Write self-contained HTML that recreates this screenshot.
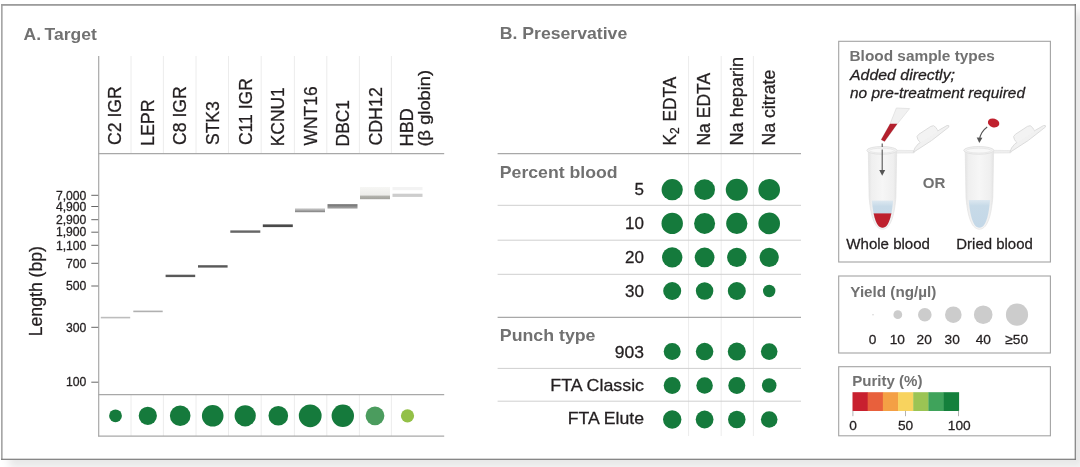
<!DOCTYPE html>
<html><head><meta charset="utf-8"><title>Figure</title>
<style>
html,body{margin:0;padding:0;background:#fff;}
body{width:1080px;height:467px;overflow:hidden;position:relative;font-family:"Liberation Sans",sans-serif;}
#frame{position:absolute;left:1.1px;top:4px;width:1074.7px;height:455.9px;background:#fff;
 box-shadow:8px 8px 8px rgba(0,0,0,0.095);}
svg{position:absolute;left:0;top:0;will-change:transform;}
text{font-family:"Liberation Sans",sans-serif;}
</style></head><body>
<div id="frame"></div>
<svg width="1080" height="467" viewBox="0 0 1080 467">
<rect x="1.1" y="4.0" width="1074.7" height="1.8" fill="#9c9c9c" />
<rect x="1.1" y="4.0" width="1.5" height="455.9" fill="#9e9e9e" />
<rect x="1.1" y="458.7" width="1074.7" height="1.2" fill="#7a7a7a" />
<rect x="1074.7" y="4.0" width="1.1" height="455.9" fill="#707070" />
<text x="23.6" y="39.8" font-size="17" font-weight="bold" fill="#717171" text-anchor="start" textLength="73.2" lengthAdjust="spacingAndGlyphs" >A.&#8201;Target</text>
<line x1="131.0" y1="56" x2="131.0" y2="153.5" stroke="#ececec" stroke-width="1"/>
<line x1="131.0" y1="395" x2="131.0" y2="436" stroke="#ececec" stroke-width="1"/>
<line x1="163.4" y1="56" x2="163.4" y2="153.5" stroke="#ececec" stroke-width="1"/>
<line x1="163.4" y1="395" x2="163.4" y2="436" stroke="#ececec" stroke-width="1"/>
<line x1="196.0" y1="56" x2="196.0" y2="153.5" stroke="#ececec" stroke-width="1"/>
<line x1="196.0" y1="395" x2="196.0" y2="436" stroke="#ececec" stroke-width="1"/>
<line x1="228.5" y1="56" x2="228.5" y2="153.5" stroke="#ececec" stroke-width="1"/>
<line x1="228.5" y1="395" x2="228.5" y2="436" stroke="#ececec" stroke-width="1"/>
<line x1="261.2" y1="56" x2="261.2" y2="153.5" stroke="#ececec" stroke-width="1"/>
<line x1="261.2" y1="395" x2="261.2" y2="436" stroke="#ececec" stroke-width="1"/>
<line x1="294.4" y1="56" x2="294.4" y2="153.5" stroke="#ececec" stroke-width="1"/>
<line x1="294.4" y1="395" x2="294.4" y2="436" stroke="#ececec" stroke-width="1"/>
<line x1="326.8" y1="56" x2="326.8" y2="153.5" stroke="#ececec" stroke-width="1"/>
<line x1="326.8" y1="395" x2="326.8" y2="436" stroke="#ececec" stroke-width="1"/>
<line x1="359.4" y1="56" x2="359.4" y2="153.5" stroke="#ececec" stroke-width="1"/>
<line x1="359.4" y1="395" x2="359.4" y2="436" stroke="#ececec" stroke-width="1"/>
<line x1="391.4" y1="56" x2="391.4" y2="153.5" stroke="#ececec" stroke-width="1"/>
<line x1="391.4" y1="395" x2="391.4" y2="436" stroke="#ececec" stroke-width="1"/>
<line x1="98.7" y1="56" x2="98.7" y2="436.5" stroke="#a8a8a8" stroke-width="1.2"/>
<line x1="98.2" y1="153.6" x2="444.2" y2="153.6" stroke="#a8a8a8" stroke-width="1.2"/>
<line x1="98.2" y1="394.6" x2="444.2" y2="394.6" stroke="#a8a8a8" stroke-width="1.2"/>
<line x1="98.2" y1="436.2" x2="444.2" y2="436.2" stroke="#a8a8a8" stroke-width="1.2"/>
<text transform="translate(121.4 145.0) rotate(-90)" x="0" y="0" font-size="18" font-weight="normal" fill="#231f20" textLength="58.7" lengthAdjust="spacingAndGlyphs" stroke="#231f20" stroke-width="0.28">C2 IGR</text>
<text transform="translate(153.9 146.0) rotate(-90)" x="0" y="0" font-size="18" font-weight="normal" fill="#231f20" textLength="46.7" lengthAdjust="spacingAndGlyphs" stroke="#231f20" stroke-width="0.28">LEPR</text>
<text transform="translate(186.4 145.0) rotate(-90)" x="0" y="0" font-size="18" font-weight="normal" fill="#231f20" textLength="58.7" lengthAdjust="spacingAndGlyphs" stroke="#231f20" stroke-width="0.28">C8 IGR</text>
<text transform="translate(218.9 145.1) rotate(-90)" x="0" y="0" font-size="18" font-weight="normal" fill="#231f20" textLength="44.0" lengthAdjust="spacingAndGlyphs" stroke="#231f20" stroke-width="0.28">STK3</text>
<text transform="translate(251.6 145.1) rotate(-90)" x="0" y="0" font-size="18" font-weight="normal" fill="#231f20" textLength="67.0" lengthAdjust="spacingAndGlyphs" stroke="#231f20" stroke-width="0.28">C11 IGR</text>
<text transform="translate(284.2 146.3) rotate(-90)" x="0" y="0" font-size="18" font-weight="normal" fill="#231f20" textLength="59.0" lengthAdjust="spacingAndGlyphs" stroke="#231f20" stroke-width="0.28">KCNU1</text>
<text transform="translate(316.5 145.4) rotate(-90)" x="0" y="0" font-size="18" font-weight="normal" fill="#231f20" textLength="59.0" lengthAdjust="spacingAndGlyphs" stroke="#231f20" stroke-width="0.28">WNT16</text>
<text transform="translate(349.0 146.4) rotate(-90)" x="0" y="0" font-size="18" font-weight="normal" fill="#231f20" textLength="46.3" lengthAdjust="spacingAndGlyphs" stroke="#231f20" stroke-width="0.28">DBC1</text>
<text transform="translate(381.6 145.6) rotate(-90)" x="0" y="0" font-size="18" font-weight="normal" fill="#231f20" textLength="58.4" lengthAdjust="spacingAndGlyphs" stroke="#231f20" stroke-width="0.28">CDH12</text>
<text transform="translate(412.6 146.4) rotate(-90)" x="0" y="0" font-size="18" font-weight="normal" fill="#231f20" textLength="38.2" lengthAdjust="spacingAndGlyphs" stroke="#231f20" stroke-width="0.28">HBD</text>
<text transform="translate(429.6 146.5) rotate(-90)" x="0" y="0" font-size="17" font-weight="normal" fill="#231f20" textLength="76.5" lengthAdjust="spacingAndGlyphs" stroke="#231f20" stroke-width="0.28">(&#946; globin)</text>
<line x1="91.3" y1="195.3" x2="98.2" y2="195.3" stroke="#555" stroke-width="0.9"/>
<text x="86.4" y="199.5" font-size="12.2" font-weight="normal" fill="#231f20" text-anchor="end" stroke="#231f20" stroke-width="0.28" >7,000</text>
<line x1="91.3" y1="206.5" x2="98.2" y2="206.5" stroke="#555" stroke-width="0.9"/>
<text x="86.4" y="210.7" font-size="12.2" font-weight="normal" fill="#231f20" text-anchor="end" stroke="#231f20" stroke-width="0.28" >4,900</text>
<line x1="91.3" y1="219.7" x2="98.2" y2="219.7" stroke="#555" stroke-width="0.9"/>
<text x="86.4" y="223.89999999999998" font-size="12.2" font-weight="normal" fill="#231f20" text-anchor="end" stroke="#231f20" stroke-width="0.28" >2,900</text>
<line x1="91.3" y1="232.2" x2="98.2" y2="232.2" stroke="#555" stroke-width="0.9"/>
<text x="86.4" y="236.39999999999998" font-size="12.2" font-weight="normal" fill="#231f20" text-anchor="end" stroke="#231f20" stroke-width="0.28" >1,900</text>
<line x1="91.3" y1="245.3" x2="98.2" y2="245.3" stroke="#555" stroke-width="0.9"/>
<text x="86.4" y="249.5" font-size="12.2" font-weight="normal" fill="#231f20" text-anchor="end" stroke="#231f20" stroke-width="0.28" >1,100</text>
<line x1="91.3" y1="263.3" x2="98.2" y2="263.3" stroke="#555" stroke-width="0.9"/>
<text x="86.4" y="267.5" font-size="12.2" font-weight="normal" fill="#231f20" text-anchor="end" stroke="#231f20" stroke-width="0.28" >700</text>
<line x1="91.3" y1="286.0" x2="98.2" y2="286.0" stroke="#555" stroke-width="0.9"/>
<text x="86.4" y="290.2" font-size="12.2" font-weight="normal" fill="#231f20" text-anchor="end" stroke="#231f20" stroke-width="0.28" >500</text>
<line x1="91.3" y1="327.3" x2="98.2" y2="327.3" stroke="#555" stroke-width="0.9"/>
<text x="86.4" y="331.5" font-size="12.2" font-weight="normal" fill="#231f20" text-anchor="end" stroke="#231f20" stroke-width="0.28" >300</text>
<line x1="91.3" y1="382.2" x2="98.2" y2="382.2" stroke="#555" stroke-width="0.9"/>
<text x="86.4" y="386.4" font-size="12.2" font-weight="normal" fill="#231f20" text-anchor="end" stroke="#231f20" stroke-width="0.28" >100</text>
<text transform="translate(42.0 336.3) rotate(-90)" x="0" y="0" font-size="18.5" font-weight="normal" fill="#231f20" textLength="90.3" lengthAdjust="spacingAndGlyphs" stroke="#231f20" stroke-width="0.28">Length (bp)</text>
<defs><linearGradient id="gW" x1="0" y1="0" x2="0" y2="1"><stop offset="0" stop-color="#d4d4d4"/><stop offset="1" stop-color="#7d7d7d"/></linearGradient><linearGradient id="gD" x1="0" y1="0" x2="0" y2="1"><stop offset="0" stop-color="#6b6b6b"/><stop offset="1" stop-color="#a9a9a9"/></linearGradient><linearGradient id="gC" x1="0" y1="0" x2="0" y2="1"><stop offset="0" stop-color="#f6f6f4"/><stop offset="0.68" stop-color="#ededea"/><stop offset="0.72" stop-color="#b4b4ae"/><stop offset="1" stop-color="#a2a29c"/></linearGradient></defs>
<rect x="100.8" y="316.8" width="29.4" height="1.6" fill="#bdbdbd" />
<rect x="133.3" y="310.6" width="29.4" height="1.6" fill="#b0b0b0" />
<rect x="165.6" y="274.7" width="29.6" height="2.4" fill="#595959" />
<rect x="198.0" y="265.2" width="29.6" height="2.4" fill="#595959" />
<rect x="230.3" y="230.4" width="30.0" height="2.4" fill="#666666" />
<rect x="262.8" y="224.4" width="30.0" height="2.7" fill="#4a4a4a" />
<rect x="295.0" y="208.3" width="30.0" height="3.9" fill="url(#gW)" />
<rect x="327.5" y="204.2" width="30.0" height="4.4" fill="url(#gD)" />
<rect x="360.0" y="187.0" width="30.0" height="12.2" fill="url(#gC)" />
<rect x="392.5" y="187.0" width="30.0" height="3.2" fill="#f3f3f3" />
<rect x="392.5" y="193.7" width="30.0" height="3.2" fill="#cdcdcd" />
<circle cx="115.5" cy="415.8" r="6.4" fill="#157a3c"/>
<circle cx="147.8" cy="415.8" r="9.1" fill="#157a3c"/>
<circle cx="180.2" cy="415.8" r="10.3" fill="#157a3c"/>
<circle cx="212.7" cy="415.8" r="10.8" fill="#157a3c"/>
<circle cx="245.2" cy="415.8" r="10.6" fill="#157a3c"/>
<circle cx="278.3" cy="415.8" r="9.8" fill="#157a3c"/>
<circle cx="310.2" cy="415.8" r="11.4" fill="#157a3c"/>
<circle cx="342.8" cy="415.8" r="11.2" fill="#157a3c"/>
<circle cx="375.0" cy="415.8" r="9.4" fill="#4b9c5e"/>
<circle cx="407.5" cy="415.8" r="6.6" fill="#93c047"/>
<text x="499.8" y="39.4" font-size="17" font-weight="bold" fill="#717171" text-anchor="start" textLength="127.4" lengthAdjust="spacingAndGlyphs" >B. Preservative</text>
<line x1="688.6" y1="56" x2="688.6" y2="436" stroke="#ececec" stroke-width="1"/>
<line x1="721.2" y1="56" x2="721.2" y2="436" stroke="#ececec" stroke-width="1"/>
<line x1="753.4" y1="56" x2="753.4" y2="436" stroke="#ececec" stroke-width="1"/>
<line x1="497.6" y1="153.6" x2="801" y2="153.6" stroke="#a8a8a8" stroke-width="1.2"/>
<line x1="497.6" y1="317.3" x2="801" y2="317.3" stroke="#a8a8a8" stroke-width="1.2"/>
<line x1="497.6" y1="205.3" x2="801" y2="205.3" stroke="#cfcfcf" stroke-width="1"/>
<line x1="497.6" y1="240.2" x2="801" y2="240.2" stroke="#cfcfcf" stroke-width="1"/>
<line x1="497.6" y1="274.3" x2="801" y2="274.3" stroke="#cfcfcf" stroke-width="1"/>
<line x1="497.6" y1="368.4" x2="801" y2="368.4" stroke="#cfcfcf" stroke-width="1"/>
<line x1="497.6" y1="401.2" x2="801" y2="401.2" stroke="#cfcfcf" stroke-width="1"/>
<text transform="translate(676.4 145.6) rotate(-90)" font-size="18" fill="#231f20" stroke="#231f20" stroke-width="0.28" textLength="68.8" lengthAdjust="spacingAndGlyphs">K<tspan font-size="12.5" dy="2.6">2</tspan><tspan dy="-2.6" dx="1.2"> EDTA</tspan></text>
<text transform="translate(710.0 145.6) rotate(-90)" x="0" y="0" font-size="18" font-weight="normal" fill="#231f20" textLength="72.8" lengthAdjust="spacingAndGlyphs" stroke="#231f20" stroke-width="0.28">Na EDTA</text>
<text transform="translate(742.6 145.6) rotate(-90)" x="0" y="0" font-size="18" font-weight="normal" fill="#231f20" textLength="88.8" lengthAdjust="spacingAndGlyphs" stroke="#231f20" stroke-width="0.28">Na heparin</text>
<text transform="translate(775.0 145.6) rotate(-90)" x="0" y="0" font-size="18" font-weight="normal" fill="#231f20" textLength="75.9" lengthAdjust="spacingAndGlyphs" stroke="#231f20" stroke-width="0.28">Na citrate</text>
<text x="499.8" y="177.5" font-size="17" font-weight="bold" fill="#717171" text-anchor="start" textLength="117.8" lengthAdjust="spacingAndGlyphs" >Percent blood</text>
<text x="499.8" y="341.3" font-size="17" font-weight="bold" fill="#717171" text-anchor="start" textLength="95.7" lengthAdjust="spacingAndGlyphs" >Punch type</text>
<text x="644.0" y="195.0" font-size="17" font-weight="normal" fill="#231f20" text-anchor="end" stroke="#231f20" stroke-width="0.28" >5</text>
<text x="644.0" y="229.0" font-size="17" font-weight="normal" fill="#231f20" text-anchor="end" stroke="#231f20" stroke-width="0.28" >10</text>
<text x="644.0" y="263.3" font-size="17" font-weight="normal" fill="#231f20" text-anchor="end" stroke="#231f20" stroke-width="0.28" >20</text>
<text x="644.0" y="296.7" font-size="17" font-weight="normal" fill="#231f20" text-anchor="end" stroke="#231f20" stroke-width="0.28" >30</text>
<text x="644.0" y="358.0" font-size="17" font-weight="normal" fill="#231f20" text-anchor="end" textLength="29.2" lengthAdjust="spacingAndGlyphs" stroke="#231f20" stroke-width="0.28" >903</text>
<text x="644.0" y="391.3" font-size="17" font-weight="normal" fill="#231f20" text-anchor="end" textLength="93.7" lengthAdjust="spacingAndGlyphs" stroke="#231f20" stroke-width="0.28" >FTA Classic</text>
<text x="644.0" y="423.8" font-size="17" font-weight="normal" fill="#231f20" text-anchor="end" textLength="76.2" lengthAdjust="spacingAndGlyphs" stroke="#231f20" stroke-width="0.28" >FTA Elute</text>
<circle cx="672.2" cy="189.7" r="10.6" fill="#157a3c"/>
<circle cx="704.6" cy="189.7" r="10.4" fill="#157a3c"/>
<circle cx="736.8" cy="189.7" r="11.0" fill="#157a3c"/>
<circle cx="769.2" cy="189.7" r="10.8" fill="#157a3c"/>
<circle cx="672.2" cy="223.4" r="10.7" fill="#157a3c"/>
<circle cx="704.6" cy="223.4" r="10.5" fill="#157a3c"/>
<circle cx="736.8" cy="223.4" r="10.6" fill="#157a3c"/>
<circle cx="769.2" cy="223.4" r="10.8" fill="#157a3c"/>
<circle cx="672.2" cy="257.4" r="10.2" fill="#157a3c"/>
<circle cx="704.6" cy="257.4" r="9.9" fill="#157a3c"/>
<circle cx="736.8" cy="257.4" r="9.7" fill="#157a3c"/>
<circle cx="769.2" cy="257.4" r="9.6" fill="#157a3c"/>
<circle cx="672.2" cy="291.0" r="9.0" fill="#157a3c"/>
<circle cx="704.6" cy="291.0" r="8.75" fill="#157a3c"/>
<circle cx="736.8" cy="291.0" r="9.0" fill="#157a3c"/>
<circle cx="769.2" cy="291.0" r="6.2" fill="#157a3c"/>
<circle cx="672.2" cy="351.6" r="8.5" fill="#157a3c"/>
<circle cx="704.6" cy="351.6" r="8.75" fill="#157a3c"/>
<circle cx="736.8" cy="351.6" r="9.0" fill="#157a3c"/>
<circle cx="769.2" cy="351.6" r="8.3" fill="#157a3c"/>
<circle cx="672.2" cy="385.5" r="8.5" fill="#157a3c"/>
<circle cx="704.6" cy="385.5" r="8.25" fill="#157a3c"/>
<circle cx="736.8" cy="385.5" r="8.5" fill="#157a3c"/>
<circle cx="769.2" cy="385.5" r="7.3" fill="#157a3c"/>
<circle cx="672.2" cy="419.5" r="9.2" fill="#157a3c"/>
<circle cx="704.6" cy="419.5" r="8.9" fill="#157a3c"/>
<circle cx="736.8" cy="419.5" r="8.75" fill="#157a3c"/>
<circle cx="769.2" cy="419.5" r="8.3" fill="#157a3c"/>
<rect x="838.7" y="41.3" width="211.70000000000005" height="220.7" fill="none" stroke="#a3a3a3" stroke-width="1.1"/>
<rect x="838.7" y="276.0" width="211.70000000000005" height="77.0" fill="none" stroke="#a3a3a3" stroke-width="1.1"/>
<rect x="838.7" y="366.7" width="211.70000000000005" height="69.10000000000002" fill="none" stroke="#a3a3a3" stroke-width="1.1"/>
<text x="849.5" y="60.8" font-size="15.5" font-weight="bold" fill="#717171" text-anchor="start" textLength="145.4" lengthAdjust="spacingAndGlyphs" >Blood sample types</text>
<text x="850" y="79.7" font-size="15.5" font-weight="normal" fill="#231f20" text-anchor="start" font-style="italic" textLength="105" lengthAdjust="spacingAndGlyphs" stroke="#231f20" stroke-width="0.28" >Added directly;</text>
<text x="850" y="97.5" font-size="15.5" font-weight="normal" fill="#231f20" text-anchor="start" font-style="italic" textLength="175" lengthAdjust="spacingAndGlyphs" stroke="#231f20" stroke-width="0.28" >no pre-treatment required</text>
<defs><linearGradient id="tb" x1="0" y1="0" x2="1" y2="0"><stop offset="0" stop-color="#e3e3e3"/><stop offset="0.12" stop-color="#efefef"/><stop offset="0.5" stop-color="#f6f6f6"/><stop offset="0.88" stop-color="#efefef"/><stop offset="1" stop-color="#e3e3e3"/></linearGradient><linearGradient id="lq" x1="0" y1="0" x2="0" y2="1"><stop offset="0" stop-color="#dde8f0"/><stop offset="0.18" stop-color="#c7dae8"/><stop offset="1" stop-color="#c3d7e7"/></linearGradient></defs>
<path d="M896.5 150.29999999999998 L915.1 150.6 L914.1 152.89999999999998 L896.5 153.1 Z" fill="#efefef" stroke="#e0e0e0" stroke-width="0.6"/>
<g transform="translate(913.6 151.2) rotate(-33.2)"><rect x="10" y="-11.3" width="21.6" height="9.5" rx="3.6" fill="#f3f3f3" stroke="#dcdcdc" stroke-width="0.9"/><path d="M-1 0.8 Q21 1.9 42.6 -0.9 Q44.6 -2.4 42 -3.2 L33 -3.7 L8 -3.6 Q2.5 -2.6 -1 0.8 Z" fill="#f1f1f1" stroke="#dcdcdc" stroke-width="0.9"/><rect x="10.6" y="-5.6" width="20.4" height="2.6" fill="#f3f3f3"/></g>
<path d="M868.3 151 L869.0999999999999 197 C870.3 212 873.5 229.2 882.5 229.2 C891.5 229.2 894.7 212 895.9000000000001 197 L896.7 151 Z" fill="url(#tb)" stroke="#e2e2e2" stroke-width="0.7"/>
<clipPath id="clip882"><path d="M871.0 151 L871.6 197 C872.6 211 875.1 227.8 882.5 227.8 C889.9 227.8 892.4 211 893.4 197 L894.0 151 Z"/></clipPath>
<g clip-path="url(#clip882)">
<rect x="868.3" y="200.6" width="28.40000000000009" height="32" fill="url(#lq)"/>
<rect x="868.3" y="213.4" width="28.40000000000009" height="20" fill="#be202d"/>
</g>
<ellipse cx="881.9" cy="150.4" rx="15.1" ry="3.9" fill="#f1f1f1" stroke="#dedede" stroke-width="0.8"/>
<ellipse cx="881.9" cy="150.6" rx="12.3" ry="2.4" fill="#f8f8f8" stroke="#e4e4e4" stroke-width="0.7"/>
<path d="M993.2 150.29999999999998 L1011.7 150.6 L1010.7 152.89999999999998 L993.2 153.1 Z" fill="#efefef" stroke="#e0e0e0" stroke-width="0.6"/>
<g transform="translate(1010.2 151.2) rotate(-33.2)"><rect x="10" y="-11.3" width="21.6" height="9.5" rx="3.6" fill="#f3f3f3" stroke="#dcdcdc" stroke-width="0.9"/><path d="M-1 0.8 Q21 1.9 42.6 -0.9 Q44.6 -2.4 42 -3.2 L33 -3.7 L8 -3.6 Q2.5 -2.6 -1 0.8 Z" fill="#f1f1f1" stroke="#dcdcdc" stroke-width="0.9"/><rect x="10.6" y="-5.6" width="20.4" height="2.6" fill="#f3f3f3"/></g>
<path d="M965.1999999999999 151 L965.9999999999999 197 C967.1999999999999 212 970.4 229.2 979.4 229.2 C988.4 229.2 991.6 212 992.8000000000001 197 L993.6 151 Z" fill="url(#tb)" stroke="#e2e2e2" stroke-width="0.7"/>
<clipPath id="clip979"><path d="M967.9 151 L968.5 197 C969.5 211 972.0 227.8 979.4 227.8 C986.8 227.8 989.3 211 990.3 197 L990.9 151 Z"/></clipPath>
<g clip-path="url(#clip979)">
<rect x="965.1999999999999" y="200.0" width="28.40000000000009" height="32" fill="url(#lq)"/>
</g>
<ellipse cx="978.8" cy="150.4" rx="15.1" ry="3.9" fill="#f1f1f1" stroke="#dedede" stroke-width="0.8"/>
<ellipse cx="978.8" cy="150.6" rx="12.3" ry="2.4" fill="#f8f8f8" stroke="#e4e4e4" stroke-width="0.7"/>
<path d="M896.4 108.0 L909.6 108.6 L897.4 123.8 L884.6 141.6 L881.1 139.8 L890.1 123.8 Z" fill="#f1f1f1" stroke="#e0e0e0" stroke-width="0.8"/>
<path d="M890.1 123.8 L897.4 123.8 L884.6 141.6 L881.1 139.8 Z" fill="#b3202d"/>
<line x1="882.2" y1="143.4" x2="882.2" y2="147.0" stroke="#555" stroke-width="1.1"/>
<line x1="882.2" y1="149.4" x2="882.2" y2="171.5" stroke="#555" stroke-width="1.1"/>
<path d="M879.2 170.0 L882.2 175.8 L885.2 170.0 Z" fill="#555"/>
<ellipse cx="993.6" cy="122.9" rx="5.8" ry="4.4" transform="rotate(15 993.6 122.9)" fill="#c0212e"/>
<path d="M987.2 127.0 C982.8 130.2 980.2 134.6 979.5 139.5" stroke="#555" stroke-width="1.1" fill="none"/>
<path d="M976.7 137.4 L979.3 143.0 L982.4 137.8 Z" fill="#555"/>
<text x="922.8" y="188.2" font-size="15" font-weight="bold" fill="#717171" text-anchor="start" textLength="22.6" lengthAdjust="spacingAndGlyphs" >OR</text>
<text x="846.3" y="248.7" font-size="15.5" font-weight="normal" fill="#231f20" text-anchor="start" textLength="83.7" lengthAdjust="spacingAndGlyphs" stroke="#231f20" stroke-width="0.28" >Whole blood</text>
<text x="956.3" y="248.7" font-size="15.5" font-weight="normal" fill="#231f20" text-anchor="start" textLength="76.5" lengthAdjust="spacingAndGlyphs" stroke="#231f20" stroke-width="0.28" >Dried blood</text>
<text x="850.3" y="297.0" font-size="15.5" font-weight="bold" fill="#717171" text-anchor="start" textLength="86" lengthAdjust="spacingAndGlyphs" >Yield (ng/&#181;l)</text>
<circle cx="873" cy="314.7" r="0.7" fill="#cccccc"/>
<circle cx="897.8" cy="314.7" r="4.4" fill="#cccccc"/>
<circle cx="924.8" cy="314.7" r="6.8" fill="#cccccc"/>
<circle cx="953.3" cy="314.7" r="8.3" fill="#cccccc"/>
<circle cx="983.2" cy="314.7" r="9.3" fill="#cccccc"/>
<circle cx="1017" cy="314.7" r="11.1" fill="#cccccc"/>
<text x="872.5" y="344.0" font-size="13.7" font-weight="normal" fill="#231f20" text-anchor="middle" stroke="#231f20" stroke-width="0.28" >0</text>
<text x="897.3" y="344.0" font-size="13.7" font-weight="normal" fill="#231f20" text-anchor="middle" stroke="#231f20" stroke-width="0.28" >10</text>
<text x="924.2" y="344.0" font-size="13.7" font-weight="normal" fill="#231f20" text-anchor="middle" stroke="#231f20" stroke-width="0.28" >20</text>
<text x="952.2" y="344.0" font-size="13.7" font-weight="normal" fill="#231f20" text-anchor="middle" stroke="#231f20" stroke-width="0.28" >30</text>
<text x="983.3" y="344.0" font-size="13.7" font-weight="normal" fill="#231f20" text-anchor="middle" stroke="#231f20" stroke-width="0.28" >40</text>
<text x="1016.7" y="344.0" font-size="13.7" font-weight="normal" fill="#231f20" text-anchor="middle" stroke="#231f20" stroke-width="0.28" >&#8805;50</text>
<text x="852.2" y="386.3" font-size="15.5" font-weight="bold" fill="#717171" text-anchor="start" textLength="70.3" lengthAdjust="spacingAndGlyphs" >Purity (%)</text>
<rect x="852.5" y="392.2" width="15.49" height="18.8" fill="#c8202f" />
<rect x="867.69" y="392.2" width="15.49" height="18.8" fill="#e8603c" />
<rect x="882.87" y="392.2" width="15.49" height="18.8" fill="#f4a045" />
<rect x="898.06" y="392.2" width="15.49" height="18.8" fill="#f8d35e" />
<rect x="913.24" y="392.2" width="15.49" height="18.8" fill="#9bc454" />
<rect x="928.43" y="392.2" width="15.49" height="18.8" fill="#3fa35b" />
<rect x="943.61" y="392.2" width="15.49" height="18.8" fill="#14803c" />
<line x1="852.9" y1="410.8" x2="852.9" y2="416.2" stroke="#aaa" stroke-width="0.9"/>
<line x1="905.5" y1="410.8" x2="905.5" y2="416.2" stroke="#aaa" stroke-width="0.9"/>
<line x1="958.5" y1="410.8" x2="958.5" y2="416.2" stroke="#aaa" stroke-width="0.9"/>
<text x="853" y="429.8" font-size="13.7" font-weight="normal" fill="#231f20" text-anchor="middle" stroke="#231f20" stroke-width="0.28" >0</text>
<text x="905.5" y="429.8" font-size="13.7" font-weight="normal" fill="#231f20" text-anchor="middle" stroke="#231f20" stroke-width="0.28" >50</text>
<text x="959.2" y="429.8" font-size="13.7" font-weight="normal" fill="#231f20" text-anchor="middle" stroke="#231f20" stroke-width="0.28" >100</text>
</svg>
</body></html>
